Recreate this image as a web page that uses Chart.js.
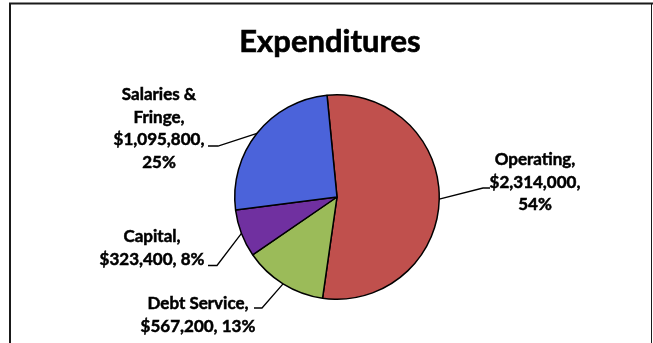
<!DOCTYPE html>
<html>
<head>
<meta charset="utf-8">
<title>Expenditures</title>
<script src="https://cdn.jsdelivr.net/npm/chart.js@4/dist/chart.umd.min.js"></script>
<style>
  html, body { margin: 0; padding: 0; background: #fff; }
  #wrap { width: 653px; height: 343px; }
</style>
</head>
<body>
<div id="wrap"><canvas id="exp-pie" width="653" height="343"></canvas></div>
<script>
// data
const categories = ['Operating', 'Debt Service', 'Capital', 'Salaries & Fringe'];
const amounts = [2314000, 567200, 323400, 1095800];
const sliceColors = ['#C0504D', '#9BBB59', '#7030A0', '#4B63DA'];

const total = amounts.reduce((a, b) => a + b, 0);
const money = v => '$' + v.toLocaleString('en-US');

// label layout (Excel-style, manually placed labels with leader lines)
// wrap = number of words on each line
const labelLayout = [
  { cx: 535, y: 165, wrap: [1, 1, 1], lead: [[490, 188], [483, 188]] },
  { cx: 198, y: 309, wrap: [2, 2], lead: [[254, 308], [262, 308]] },
  { cx: 152, y: 242, wrap: [1, 2], lead: [[208, 265.5], [217, 265.5]] },
  { cx: 159, y: 100, wrap: [2, 1, 1, 1], lead: [[208, 146], [218, 146]] }
];

const excelDecor = {
  id: 'excelDecor',
  beforeDraw(chart) {
    const ctx = chart.ctx;
    ctx.save();
    ctx.fillStyle = '#fff';
    ctx.fillRect(0, 0, chart.width, chart.height);
    // frame
    ctx.strokeStyle = '#1a1a1a';
    ctx.lineWidth = 2;
    ctx.beginPath();
    ctx.moveTo(10, 343); ctx.lineTo(10, 3.5); ctx.lineTo(653, 3.5);
    ctx.stroke();
    ctx.lineWidth = 1;
    ctx.beginPath();
    ctx.moveTo(651.5, 3.5); ctx.lineTo(651.5, 343);
    ctx.stroke();
    // title
    ctx.fillStyle = '#000';
    ctx.strokeStyle = '#000';
    ctx.lineWidth = 0.6;
    ctx.font = 'bold 31px Lato, "Open Sans", sans-serif';
    ctx.textAlign = 'center';
    ctx.textBaseline = 'alphabetic';
    ctx.fillText('Expenditures', 330, 52);
    ctx.strokeText('Expenditures', 330, 52);
    ctx.restore();
  },
  afterDatasetsDraw(chart) {
    const ctx = chart.ctx;
    const meta = chart.getDatasetMeta(0);
    ctx.save();
    ctx.fillStyle = '#000';
    ctx.font = 'bold 17px Lato, "Open Sans", sans-serif';
    ctx.textAlign = 'center';
    ctx.textBaseline = 'alphabetic';
    meta.data.forEach((arc, i) => {
      const lay = labelLayout[i];
      const p = arc.getProps(['x', 'y', 'startAngle', 'endAngle', 'outerRadius'], true);
      const mid = (p.startAngle + p.endAngle) / 2;
      const ex = p.x + Math.cos(mid) * p.outerRadius;
      const ey = p.y + Math.sin(mid) * p.outerRadius;
      // leader line
      ctx.strokeStyle = '#000';
      ctx.lineWidth = 1.3;
      ctx.beginPath();
      ctx.moveTo(lay.lead[0][0], lay.lead[0][1]);
      ctx.lineTo(lay.lead[1][0], lay.lead[1][1]);
      ctx.lineTo(ex, ey);
      ctx.stroke();
      // label text, a touch heavier like Calibri bold
      ctx.lineWidth = 0.5;
      const pct = Math.round(amounts[i] / total * 100) + '%';
      const words = (categories[i] + ', ' + money(amounts[i]) + ', ' + pct).split(' ');
      let w = 0;
      lay.wrap.forEach((n, li) => {
        const line = words.slice(w, w + n).join(' ');
        ctx.fillText(line, lay.cx, lay.y + li * 22.7);
        ctx.strokeText(line, lay.cx, lay.y + li * 22.7);
        w += n;
      });
    });
    ctx.restore();
  }
};

new Chart(document.getElementById('exp-pie'), {
  type: 'pie',
  data: {
    labels: categories,
    datasets: [{
      data: amounts,
      backgroundColor: sliceColors,
      borderColor: '#000',
      borderWidth: 1.5
    }]
  },
  options: {
    responsive: false,
    animation: false,
    rotation: -5.6,
    layout: { padding: { top: 94, bottom: 43, left: 234, right: 213 } },
    plugins: {
      legend: { display: false },
      title: { display: false },
      tooltip: { enabled: false }
    }
  },
  plugins: [excelDecor]
});
</script>
</body>
</html>
